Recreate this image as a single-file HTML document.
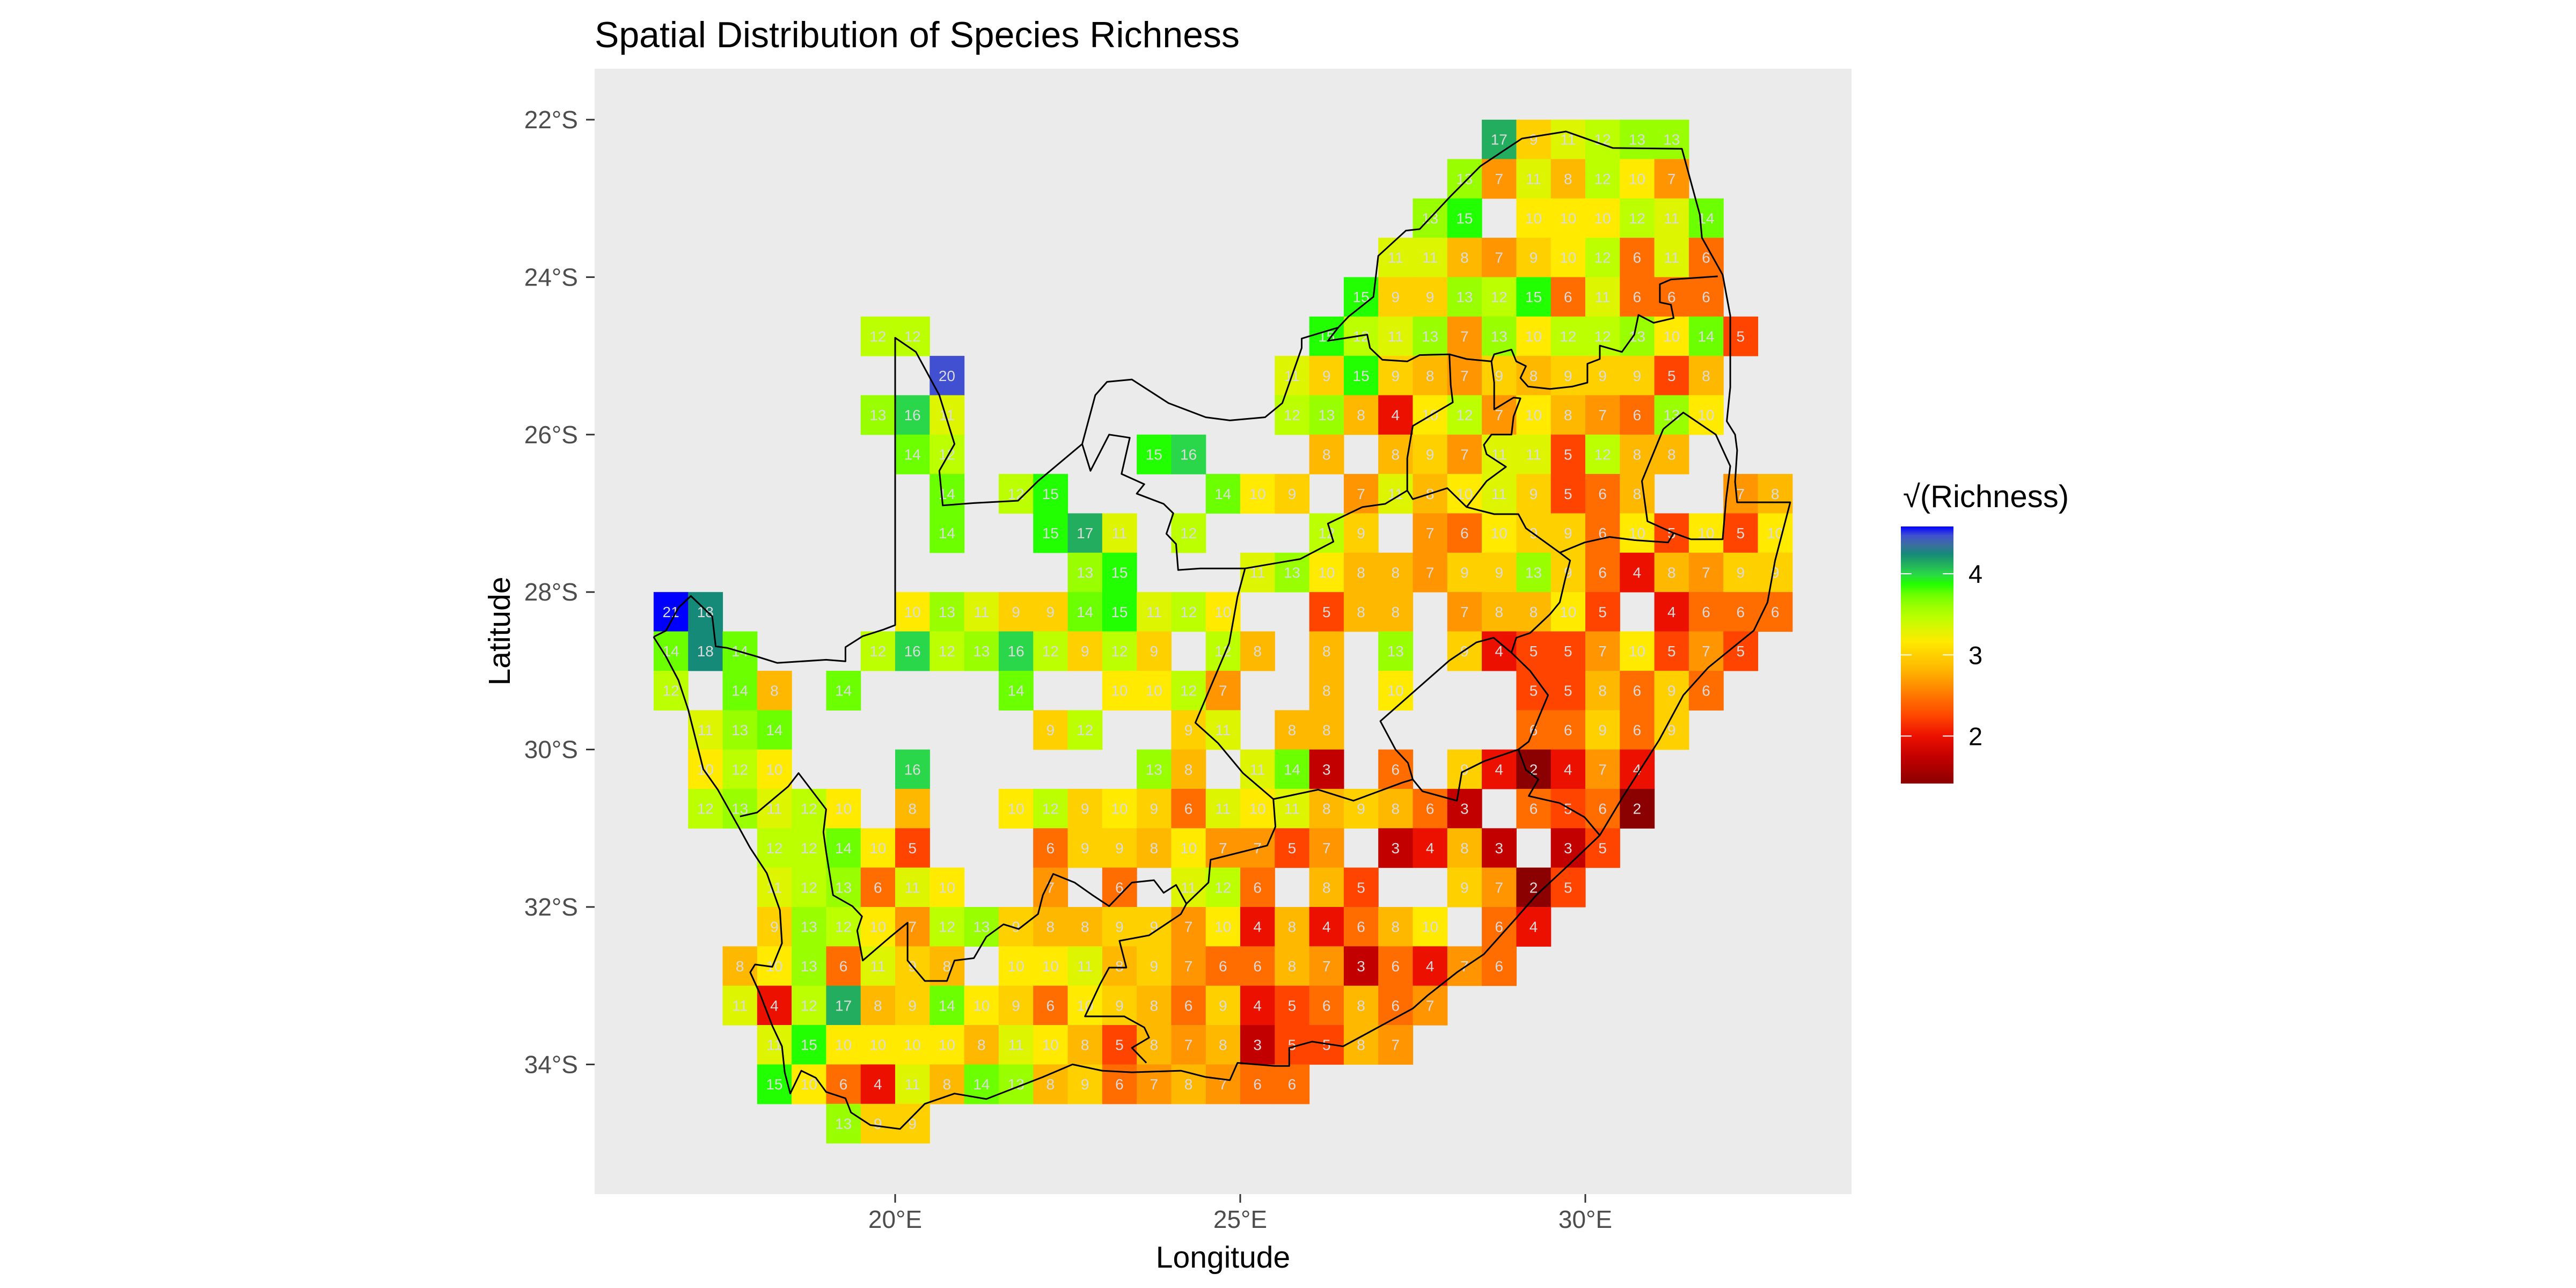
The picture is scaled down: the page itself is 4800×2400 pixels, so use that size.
<!DOCTYPE html>
<html><head><meta charset="utf-8"><title>Spatial Distribution of Species Richness</title>
<style>html,body{margin:0;padding:0;background:#fff}svg{display:block}text{font-family:"Liberation Sans",Arial,sans-serif}</style>
</head><body>
<svg id="chart" xmlns="http://www.w3.org/2000/svg" width="4800" height="2400" viewBox="0 0 4800 2400">
<rect x="0" y="0" width="4800" height="2400" fill="#ffffff"/>
<rect x="1108" y="128" width="2342" height="2097" fill="#ebebeb"/>
<g id="cells"></g>
<g id="borders" fill="none" stroke="#000" stroke-width="3" stroke-linejoin="round"></g>
<g id="axes"></g>
<text x="1108" y="88" font-size="68" fill="#000">Spatial Distribution of Species Richness</text>
<text x="2279" y="2362" font-size="57" text-anchor="middle" fill="#000">Longitude</text>
<text transform="translate(950,1176) rotate(-90)" font-size="57" text-anchor="middle" fill="#000">Latitude</text>
<g id="legend">
<text x="3546" y="945" font-size="58" fill="#000">√(Richness)</text>
</g>
</svg>
<script>
// ---- data: grid rows (lat band 22+0.5r .. ), starting column index (lon 16.5+0.5c), values (0 = no data)
const rowStart = [24,23,22,21,20,6,8,6,7,8,8,12,0,0,0,1,1,1,3,3,3,2,2,3,3,5];
const rowVals = [
 [17,9,11,12,13,13],
 [13,7,11,8,12,10,7],
 [13,15,0,10,10,10,12,11,14],
 [11,11,8,7,9,10,12,6,11,6],
 [15,9,9,13,12,15,6,11,6,6,6],
 [12,12,0,0,0,0,0,0,0,0,0,0,0,15,12,11,13,7,13,10,12,12,13,10,14,5],
 [20,0,0,0,0,0,0,0,0,0,11,9,15,9,8,7,9,8,9,9,9,5,8],
 [13,16,11,0,0,0,0,0,0,0,0,0,12,13,8,4,10,12,7,10,8,7,6,13,10],
 [14,12,0,0,0,0,0,15,16,0,0,0,8,0,8,9,7,11,11,5,12,8,8],
 [14,0,12,15,0,0,0,0,14,10,9,0,7,11,8,10,11,9,5,6,8,0,0,7,8],
 [14,0,0,15,17,11,0,12,0,0,0,12,9,0,7,6,10,9,9,6,10,5,10,5,10],
 [13,15,0,0,0,11,13,10,8,8,7,9,9,13,9,6,4,8,7,9,9],
 [21,18,0,0,0,0,0,10,13,11,9,9,14,15,11,12,10,0,0,5,8,8,0,7,8,8,10,5,0,4,6,6,6],
 [14,18,14,0,0,0,12,16,12,13,16,12,9,12,9,0,12,8,0,8,0,13,0,9,4,5,5,7,10,5,7,5],
 [12,0,14,8,0,14,0,0,0,0,14,0,0,10,10,12,7,0,0,8,0,10,0,0,0,5,5,8,6,9,6],
 [11,13,14,0,0,0,0,0,0,0,9,12,0,0,9,11,0,8,8,0,0,0,0,0,6,6,9,6,9],
 [10,12,10,0,0,0,16,0,0,0,0,0,0,13,8,0,11,14,3,0,6,0,9,4,2,4,7,4],
 [12,13,11,12,10,0,8,0,0,10,12,9,10,9,6,11,10,11,8,9,8,6,3,0,6,5,6,2],
 [12,12,14,10,5,0,0,0,6,9,9,8,10,7,7,5,7,0,3,4,8,3,0,3,5],
 [11,12,13,6,11,10,0,0,7,0,6,0,11,12,6,0,8,5,0,0,9,7,2,5],
 [9,13,12,10,7,12,13,9,8,8,9,9,7,10,4,8,4,6,8,10,0,6,4],
 [8,10,13,6,11,9,8,0,10,10,11,8,9,7,6,6,8,7,3,6,4,7,6],
 [11,4,12,17,8,9,14,10,9,6,10,9,8,6,9,4,5,6,8,6,7],
 [11,15,10,10,10,10,8,11,10,8,5,8,7,8,3,5,5,8,7],
 [15,10,6,4,11,8,14,13,8,9,6,7,8,7,6,6],
 [13,9,9]
];
const xTicks = [20,25,30];
const xTickLabels = ["20°E","25°E","30°E"];
const yTicks = [22,24,26,28,30,32,34];
const yTickLabels = ["22°S","24°S","26°S","28°S","30°S","32°S","34°S"];
const legendTicks = [2,3,4];
const legendMin = Math.sqrt(2), legendMax = Math.sqrt(21);

// ---- scales
const NS = "http://www.w3.org/2000/svg";
function X(lon){ return 1668 + (lon-20)*128.6; }
function Y(latS){ return 223 + (latS-22)*146.7; }
const colorStops = [[1.414,[139,0,0]],[1.732,[194,0,0]],[2.0,[236,16,0]],[2.236,[255,68,0]],[2.449,[255,108,0]],[2.646,[255,149,0]],[2.828,[255,184,0]],[3.0,[255,208,0]],[3.162,[255,234,0]],[3.317,[221,245,0]],[3.464,[187,255,0]],[3.606,[153,255,0]],[3.742,[108,255,0]],[3.873,[34,255,0]],[4.0,[42,214,74]],[4.123,[34,174,94]],[4.243,[21,138,120]],[4.36,[60,110,160]],[4.472,[64,80,208]],[4.583,[0,0,255]]];
function colorOf(s){
  if(s<=colorStops[0][0]) return rgb(colorStops[0][1]);
  for(let i=1;i<colorStops.length;i++){
    if(s<=colorStops[i][0]){
      const a=colorStops[i-1], b=colorStops[i], t=(s-a[0])/(b[0]-a[0]);
      return rgb(a[1].map((v,k)=>Math.round(v+(b[1][k]-v)*t)));
    }
  }
  return rgb(colorStops[colorStops.length-1][1]);
}
function rgb(c){ return "rgb("+c[0]+","+c[1]+","+c[2]+")"; }
function mk(tag, attrs, parent){ const e=document.createElementNS(NS,tag); for(const k in attrs) e.setAttribute(k,attrs[k]); parent.appendChild(e); return e; }

// ---- cells
const cells = document.getElementById("cells");
rowVals.forEach((vals,r)=>{
  vals.forEach((v,i)=>{
    if(!v) return;
    const c = rowStart[r]+i;
    const lon = 16.5+0.5*c, lat = 22+0.5*r;
    const x0=X(lon), x1=X(lon+0.5), y0=Y(lat), y1=Y(lat+0.5);
    const rect = mk("rect",{x:x0.toFixed(1),y:y0.toFixed(1),width:(x1-x0+0.6).toFixed(1),height:(y1-y0+0.6).toFixed(1),fill:colorOf(Math.sqrt(v))},cells);
    
    
    const t = mk("text",{x:((x0+x1)/2).toFixed(1),y:((y0+y1)/2+10).toFixed(1),"font-size":"28","text-anchor":"middle",fill:"#dadada"},cells);
    
    
    t.textContent = v;
  });
});

// ---- borders (lon, lat south)
const borderLines = [
 [[16.5,28.57],[16.68,28.49],[16.86,28.2],[17.04,28.05],[17.35,28.31],[17.4,28.69],[17.57,28.71],[18.0,28.82],[18.29,28.9],[19.0,28.86],[19.28,28.88],[19.28,28.7],[19.53,28.56],[19.82,28.48],[20.0,28.42],[20.0,24.77],[20.3,24.95],[20.64,25.5],[20.86,26.12],[20.64,26.46],[20.69,26.9],[21.14,26.87],[21.78,26.84],[22.07,26.59],[22.71,26.12],[22.9,25.5],[23.07,25.33],[23.43,25.3],[23.96,25.6],[24.5,25.78],[24.85,25.82],[25.36,25.78],[25.61,25.6],[25.89,24.9],[25.89,24.78],[26.42,24.64],[26.57,24.5],[26.93,24.25],[27.0,23.73],[27.4,23.41],[27.6,23.39],[28.05,22.97],[28.48,22.59],[29.08,22.24],[29.72,22.15],[30.4,22.36],[31.4,22.37],[31.66,23.21],[31.69,23.5],[31.99,23.97],[32.1,24.49],[32.1,25.4],[32.05,25.83],[32.17,26.0],[32.2,26.2],[32.17,26.6],[32.2,26.86],[32.97,26.86],[32.75,27.6],[32.64,28.13],[32.44,28.49],[31.78,28.96],[31.42,29.31],[31.07,29.88],[30.53,30.62],[30.21,31.09],[29.78,31.45],[29.29,31.85],[29.0,32.14],[28.53,32.6],[28.14,32.83],[27.72,33.12],[27.5,33.29],[26.49,33.77],[26.04,33.71],[25.71,33.79],[25.71,34.02],[25.5,34.02],[24.96,33.98],[24.85,34.2],[24.5,34.16],[24.14,34.08],[23.43,34.1],[23.0,34.08],[22.57,34.0],[22.14,34.16],[21.32,34.44],[20.86,34.37],[20.43,34.5],[20.07,34.82],[19.64,34.77],[19.36,34.61],[19.28,34.43],[19.0,34.35],[18.85,34.17],[18.64,34.08],[18.48,34.37],[18.4,34.1],[18.36,33.77],[18.22,33.51],[18.04,33.1],[17.9,32.83],[17.97,32.73],[18.22,32.76],[18.36,32.46],[18.33,32.04],[18.14,31.57],[17.9,31.25],[17.73,30.98],[17.43,30.51],[17.22,30.25],[17.0,29.49],[16.86,29.12],[16.68,28.82],[16.5,28.57]],
 [[28.03,28.87],[28.42,28.64],[28.67,28.58],[28.93,28.77],[29.2,29.0],[29.46,29.31],[29.36,29.52],[29.18,29.9],[29.03,30.0],[28.53,30.15],[28.21,30.29],[28.14,30.65],[27.64,30.53],[27.5,30.38],[27.43,30.17],[27.25,30.0],[27.03,29.64],[27.6,29.2],[28.03,28.87]],
 [[31.13,25.93],[31.42,25.72],[31.89,26.0],[32.1,26.4],[32.04,26.82],[31.99,27.33],[31.53,27.33],[31.28,27.25],[30.9,27.1],[30.82,26.59],[31.13,25.93]],
 [[17.75,30.85],[18.0,30.8],[18.45,30.47],[18.6,30.3],[19.0,30.76],[18.96,31.05],[19.0,31.3],[19.1,31.85],[19.38,31.99],[19.52,32.12],[19.45,32.3],[19.53,32.68],[19.93,32.38],[20.18,32.2],[20.18,32.68],[20.43,32.94],[20.75,32.94],[20.86,32.68],[21.14,32.65],[21.32,32.38],[21.57,32.22],[21.79,32.28],[22.07,32.09],[22.14,31.85],[22.29,31.58],[22.6,31.69],[22.86,31.85],[23.1,31.99],[23.43,31.69],[23.75,31.66],[23.89,31.82],[24.07,31.72],[24.22,31.96]],
 [[24.22,31.96],[24.14,32.09],[23.68,32.36],[23.25,32.43],[23.35,32.77],[23.1,32.77],[22.97,32.98],[22.75,33.39],[23.32,33.39],[23.61,33.53],[23.68,33.66],[23.43,33.79],[23.64,33.98]],
 [[24.22,31.96],[24.54,31.69],[24.57,31.4],[25.39,31.22],[25.51,30.98],[25.48,30.63],[25.04,30.3],[24.68,29.92],[24.35,29.66],[24.84,28.65],[24.96,28.06],[25.07,27.7],[24.42,27.7],[24.1,27.72],[24.07,27.39],[23.93,27.26],[24.03,27.0],[23.89,26.88],[23.5,26.75],[23.61,26.63],[23.28,26.5],[23.4,26.04],[23.1,26.0],[22.83,26.46],[22.71,26.12]],
 [[25.48,30.63],[26.13,30.51],[26.64,30.65],[27.35,30.42],[27.5,30.38]],
 [[25.07,27.7],[25.87,27.58],[26.35,27.36],[26.27,27.13],[26.77,26.92],[27.1,26.88],[27.42,26.71],[27.5,26.82],[28.0,26.68],[28.28,26.92],[28.68,27.01],[29.03,27.01],[29.14,27.19],[29.63,27.5],[29.99,27.37],[30.35,27.3],[30.71,27.34],[31.2,27.37],[31.28,27.25]],
 [[29.63,27.5],[29.78,27.6],[29.71,27.83],[29.63,28.13],[29.49,28.28],[29.2,28.52],[29.0,28.58],[28.93,28.77]],
 [[29.03,30.0],[29.14,30.26],[29.32,30.38],[29.18,30.59],[29.63,30.68],[29.99,30.86],[30.21,31.09]],
 [[31.92,23.99],[31.24,24.03],[31.08,24.09],[31.08,24.32],[31.24,24.35],[31.28,24.52],[30.99,24.58],[30.77,24.48],[30.71,24.73],[30.53,24.95],[30.21,24.87],[30.21,25.04],[30.03,25.1],[30.03,25.34],[29.81,25.39],[29.49,25.42],[29.17,25.39],[29.06,25.28],[29.14,25.13],[29.0,25.07],[28.93,24.92],[28.68,24.98],[28.64,25.07]],
 [[26.42,24.64],[26.27,24.81],[26.84,24.73],[26.88,24.9],[27.06,25.05],[27.42,25.07],[27.6,24.99],[28.03,24.98],[28.28,25.04],[28.64,25.07]],
 [[28.64,25.07],[28.68,25.34],[28.68,25.68],[28.96,25.53],[29.06,25.54],[28.96,25.77],[28.93,26.0],[28.64,26.0],[28.53,26.13],[28.57,26.25],[28.85,26.41],[28.57,26.59],[28.28,26.92]],
 [[28.03,24.98],[28.05,25.37],[28.08,25.59],[27.5,25.89],[27.42,26.3],[27.42,26.71]]
];
const borders = document.getElementById("borders");
borderLines.forEach(line=>{
  const p = mk("polyline",{points:line.map(pt=>X(pt[0]).toFixed(1)+","+Y(pt[1]).toFixed(1)).join(" ")},borders);
  
  
});

// ---- axes
const axes = document.getElementById("axes");
xTicks.forEach((v,i)=>{
  const x = X(v);
  const tk = mk("line",{x1:x,y1:2225,x2:x,y2:2241,stroke:"#333",'stroke-width':3},axes);
  
  
  const t = mk("text",{x:x,y:2288,'font-size':46,'text-anchor':'middle',fill:'#4d4d4d'},axes);
  
  
  t.textContent = xTickLabels[i];
});
yTicks.forEach((v,i)=>{
  const y = Y(v);
  const tk = mk("line",{x1:1092,y1:y,x2:1108,y2:y,stroke:"#333",'stroke-width':3},axes);
  
  
  const t = mk("text",{x:1077,y:y+16,'font-size':46,'text-anchor':'end',fill:'#4d4d4d'},axes);
  
  
  t.textContent = yTickLabels[i];
});

// ---- legend
const legend = document.getElementById("legend");
const LT=981, LB=1460, LX=3542, LW=98;
function LY(s){ return LT + (legendMax - s)/(legendMax-legendMin)*(LB-LT); }
const defs = mk("defs",{},legend);
const grad = mk("linearGradient",{id:"lg",x1:0,y1:0,x2:0,y2:1},defs);
colorStops.slice().reverse().forEach(s=>{
  const off = Math.min(1,Math.max(0,(legendMax - s[0])/(legendMax-legendMin)));
  mk("stop",{offset:off.toFixed(4),'stop-color':rgb(s[1])},grad);
});
const bar = mk("rect",{x:LX,y:LT,width:LW,height:LB-LT,fill:"url(#lg)"},legend);


legendTicks.forEach(v=>{
  const y = LY(v);
  const a = mk("line",{x1:LX,y1:y,x2:LX+20,y2:y,stroke:"#fff",'stroke-width':2},legend);
  
  
  const b = mk("line",{x1:LX+LW-20,y1:y,x2:LX+LW,y2:y,stroke:"#fff",'stroke-width':2},legend);
  
  
  const t = mk("text",{x:3668,y:y+17,'font-size':47,fill:'#000'},legend);
  
  
  t.textContent = v;
});
</script>
</body></html>
